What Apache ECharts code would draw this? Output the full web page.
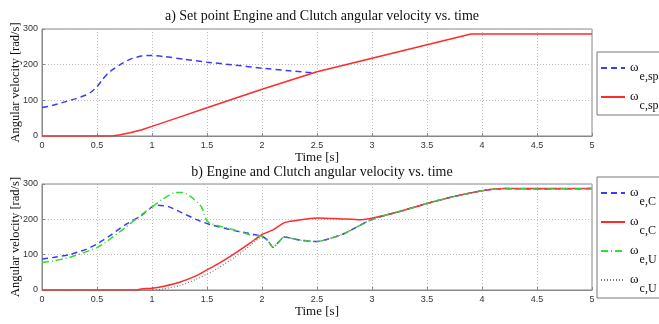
<!DOCTYPE html>
<html lang="en">
  <head>
    <meta charset="UTF-8" />
    <title>Engine and Clutch angular velocity</title>
    <script src="https://cdn.jsdelivr.net/npm/echarts@6/dist/echarts.min.js"></script>
  </head>
  <body style="margin: 0; background: #fff">
    <div id="chart" style="width: 659px; height: 324px"></div>
    <script>
      // a) set points
      const tESp = [0, 0.1, 0.2, 0.3, 0.4, 0.45, 0.5, 0.55, 0.6, 0.7, 0.8, 0.9, 0.97, 1.1, 1.3, 1.5, 1.75, 2, 2.25, 2.47];
      const vESp = [80, 86, 95, 104, 115, 124, 138, 158, 176, 198, 215, 224, 226, 223, 215, 207, 199, 190, 183, 177];
      const tCSp = [0, 0.6, 0.65, 0.7, 0.8, 0.9, 1.0, 1.25, 1.5, 2, 2.5, 3, 3.5, 3.9, 5];
      const vCSp = [0, 0, 1, 3, 9, 17, 27, 53, 79, 131, 180, 218, 256, 286, 286];

      // b) measured
      const tEC = [0, 0.1, 0.25, 0.4, 0.5, 0.6, 0.75, 0.9, 1.0, 1.05, 1.15, 1.25, 1.4, 1.5, 1.75, 2.0, 2.05, 2.1, 2.15, 2.2, 2.35, 2.5, 2.62, 2.75, 3.0, 3.25, 3.5, 3.75, 4.0, 4.1, 4.2, 4.5, 5];
      const vEC = [88, 92, 100, 115, 130, 150, 183, 210, 235, 240, 236, 222, 200, 188, 168, 152, 141, 121, 135, 150, 141, 137, 146, 160, 200, 222, 245, 265, 281, 285, 287, 286, 287];
      const tCC = [0, 0.85, 0.9, 1.0, 1.1, 1.25, 1.4, 1.5, 1.6, 1.75, 1.9, 2.0, 2.1, 2.2, 2.3, 2.5, 2.7, 2.9, 3.0, 3.25, 3.5, 3.75, 4.0, 4.2, 5];
      const vCC = [0, 0, 3, 5, 10, 22, 40, 57, 74, 103, 135, 157, 170, 190, 196, 204, 202, 199, 203, 222, 245, 265, 281, 287, 287];
      const tEU = [0, 0.1, 0.25, 0.4, 0.5, 0.6, 0.75, 0.9, 1.0, 1.1, 1.2, 1.28, 1.35, 1.45, 1.5, 1.6, 1.75, 1.9, 2.0, 2.05, 2.1, 2.15, 2.2, 2.35, 2.5, 2.62, 2.75, 3.0, 3.25, 3.5, 3.75, 4.0, 4.1, 4.2, 4.5, 5];
      const vEU = [78, 82, 92, 108, 120, 140, 175, 212, 235, 258, 275, 276, 265, 235, 195, 182, 170, 155, 152, 141, 121, 135, 150, 141, 137, 146, 160, 200, 222, 245, 265, 281, 285, 287, 286, 287];
      const tCU = [0, 1.0, 1.1, 1.25, 1.4, 1.5, 1.6, 1.75, 1.9, 2.0, 2.05, 2.1, 2.15, 2.2, 2.35, 2.5, 2.62, 2.75, 3.0, 3.25, 3.5, 3.75, 4.0, 4.1, 4.2, 4.5, 5];
      const vCU = [0, 0, 3, 12, 30, 45, 62, 92, 128, 150, 141, 121, 135, 150, 141, 137, 146, 160, 200, 222, 245, 265, 281, 285, 287, 286, 287];

      const xTicks = ["0", "0.5", "1", "1.5", "2", "2.5", "3", "3.5", "4", "4.5", "5"];

      const pairs = (t, v) => t.map((x, i) => [x, v[i]]);

      const serif = "Liberation Serif";
      const tickFont = { fontFamily: "Liberation Sans", fontSize: 9, color: "#333" };

      const xAxis = (gi) => ({
        type: "value",
        gridIndex: gi,
        min: 0,
        max: 5,
        interval: 0.5,
        name: "Time [s]",
        nameLocation: "middle",
        nameGap: 15,
        nameTextStyle: { fontFamily: serif, fontSize: 13, color: "#111" },
        axisLine: { lineStyle: { color: "#888" } },
        axisTick: { inside: true, length: 3, lineStyle: { color: "#888" } },
        axisLabel: {
          ...tickFont,
          margin: 5,
          formatter: (v) => xTicks[Math.round(v / 0.5)],
        },
        splitLine: { show: true, lineStyle: { type: [1, 2], color: "#bbb" } },
      });

      const yAxis = (gi) => ({
        type: "value",
        gridIndex: gi,
        min: 0,
        max: 300,
        interval: 100,
        name: "Angular velocity [rad/s]",
        nameLocation: "middle",
        nameGap: 20,
        nameMoveOverlap: false,
        nameTextStyle: { fontFamily: serif, fontSize: 12.5, color: "#111" },
        axisLine: { show: true, lineStyle: { color: "#888" } },
        axisTick: { show: true, inside: true, length: 3, lineStyle: { color: "#888" } },
        axisLabel: { ...tickFont, margin: 4 },
        splitLine: { show: true, lineStyle: { type: [1, 2], color: "#bbb" } },
      });

      const line = (name, data, gi, color, type, width, smooth) => ({
        name,
        type: "line",
        xAxisIndex: gi,
        yAxisIndex: gi,
        data,
        symbol: "none",
        smooth,
        lineStyle: { color, type, width },
        itemStyle: { color },
      });

      const legendBox = (top, names, padBottom) => ({
        data: names,
        orient: "vertical",
        left: 597,
        top,
        padding: [9, 20, padBottom, 3],
        itemGap: 7,
        itemWidth: 24,
        itemHeight: 10,
        borderColor: "#777",
        borderWidth: 1,
        backgroundColor: "#fff",
        itemStyle: { opacity: 0 },
        formatter: (n) => "{w|ω}{s|" + n + "}",
        textStyle: {
          rich: {
            w: { fontFamily: serif, fontSize: 13, color: "#111", padding: [7, 0, 8, 0] },
            s: { fontFamily: serif, fontSize: 12, color: "#111", padding: [18, 0, 0, 1] },
          },
        },
      });

      const gridBox = (top, height) => ({
        left: 42,
        top,
        width: 550,
        height,
        show: true,
        borderColor: "#888",
        borderWidth: 1,
        backgroundColor: "#fff",
        containLabel: false,
        outerBoundsMode: "none",
      });

      const chart = echarts.init(document.getElementById("chart"));
      chart.setOption({
        backgroundColor: "#fff",
        animation: false,
        title: [
          {
            text: "a) Set point Engine and Clutch angular velocity vs. time",
            left: 317,
            textAlign: "center",
            top: 4,
            textStyle: { fontFamily: serif, fontSize: 14, fontWeight: "normal", color: "#111" },
          },
          {
            text: "b) Engine and Clutch angular velocity vs. time",
            left: 317,
            textAlign: "center",
            top: 160,
            textStyle: { fontFamily: serif, fontSize: 14, fontWeight: "normal", color: "#111" },
          },
        ],
        grid: [gridBox(29, 107), gridBox(184, 106)],
        xAxis: [xAxis(0), xAxis(1)],
        yAxis: [yAxis(0), yAxis(1)],
        legend: [legendBox(52, ["e,sp", "c,sp"], 3), legendBox(177, ["e,C", "c,C", "e,U", "c,U"], 3)],
        series: [
          line("e,sp", pairs(tESp, vESp), 0, "#3a3aff", [6, 4], 1.5, 0.2),
          line("c,sp", pairs(tCSp, vCSp), 0, "#ff2a2a", "solid", 1.5, false),
          line("e,C", pairs(tEC, vEC), 1, "#3a3aff", [6, 4], 1.5, 0.2),
          line("c,C", pairs(tCC, vCC), 1, "#ff2a2a", "solid", 1.5, 0.2),
          line("e,U", pairs(tEU, vEU), 1, "#33dd33", [7, 3, 1, 3], 1.5, 0.2),
          line("c,U", pairs(tCU, vCU), 1, "#777", [1, 2], 1.2, 0.2),
        ],
      });
    </script>
  </body>
</html>
